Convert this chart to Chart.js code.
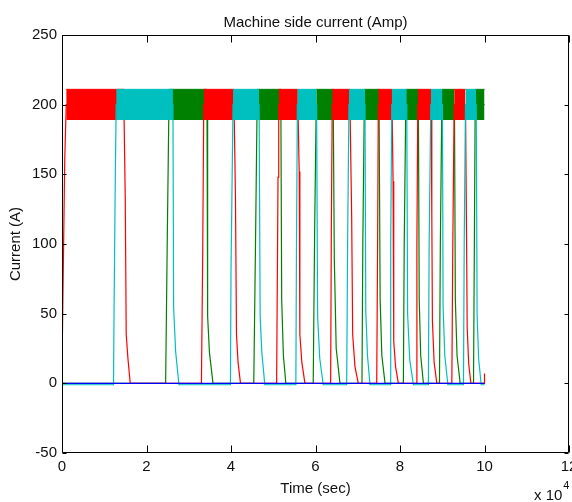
<!DOCTYPE html>
<html>
<head>
<meta charset="utf-8">
<script src="https://cdn.jsdelivr.net/npm/chart.js@4.4.1/dist/chart.umd.min.js"></script>
<style>
  html, body { margin: 0; padding: 0; background: #fff; }
  #wrap { width: 572px; height: 502px; }
</style>
</head>
<body>
<div id="wrap"><canvas id="chart"></canvas></div>
<script>
// time is in units of 1e4 s (axis shows "x 10^4"), current in A
var xTicks = [0, 2, 4, 6, 8, 10, 12];
var yTicks = [-50, 0, 50, 100, 150, 200, 250];

// envelope of the fast ripple while a phase conducts
var bandTop = 211;
var bandLow = 189;

var redT = [0, 0.065, 0.10, 1.465, 1.497, 1.52, 1.56, 1.615, 3.30, 3.33, 3.355, 4.072, 4.105, 4.13, 4.167, 4.225,
  5.08, 5.113, 5.13, 5.583, 5.614, 5.63, 5.677, 5.75, 6.358, 6.375, 6.396, 6.816, 6.856, 6.88, 6.934, 7.013,
  7.449, 7.47, 7.487, 7.812, 7.836, 7.852, 7.895, 7.961, 8.381, 8.40, 8.421, 8.737, 8.753, 8.767, 8.808, 8.872,
  9.227, 9.25, 9.282, 9.55, 9.574, 9.59, 9.626, 9.678, 9.99, 10.0];
var redA = [12, 161, 200, 200, 133, 35, 18, 0, 0, 92, 200, 200, 135, 35, 15, 0,
  0, 148, 200, 200, 152, 35, 15, 0, 0, 110, 200, 200, 120, 35, 12, 0,
  0, 100, 200, 200, 145, 30, 12, 0, 0, 100, 200, 200, 120, 45, 15, 0,
  0, 100, 200, 200, 109, 40, 14, 0, 0, 7];
var redOn = [[0.10, 1.465], [3.355, 4.072], [5.13, 5.583], [6.396, 6.816], [7.487, 7.812], [8.421, 8.737], [9.282, 9.55]];

var cyanT = [0, 1.219, 1.232, 1.262, 1.283, 2.626, 2.642, 2.689, 2.768, 3.987, 4.0, 4.048, 4.665, 4.69, 4.73, 4.80,
  5.535, 5.55, 5.571, 6.026, 6.05, 6.10, 6.183, 6.738, 6.76, 6.792, 7.171, 7.19, 7.23, 7.29,
  7.764, 7.78, 7.805, 8.16, 8.18, 8.23, 8.317, 8.672, 8.69, 8.729, 9.004, 9.02, 9.06, 9.133,
  9.502, 9.52, 9.55, 9.804, 9.825, 9.86, 9.922, 10.0];
var cyanA = [-1, -1, 51, 150, 200, 200, 54, 23, -1, -1, 80, 200, 200, 48, 22, -1,
  -1, 100, 200, 200, 48, 18, -1, -1, 100, 200, 200, 52, 20, -1,
  -1, 100, 200, 200, 50, 17, -1, -1, 100, 200, 200, 55, 20, -1,
  -1, 100, 200, 200, 50, 18, -1, -1];
var cyanOn = [[1.283, 2.626], [4.048, 4.665], [5.571, 6.026], [6.792, 7.171], [7.805, 8.16], [8.729, 9.004], [9.55, 9.804]];

var greenT = [0, 2.453, 2.493, 2.531, 3.432, 3.447, 3.49, 3.574, 4.539, 4.58, 4.618, 5.18, 5.20, 5.24, 5.298,
  5.946, 5.98, 6.017, 6.42, 6.445, 6.49, 6.579, 7.10, 7.12, 7.155, 7.504, 7.53, 7.57, 7.646,
  8.08, 8.10, 8.137, 8.435, 8.455, 8.49, 8.554, 8.934, 8.955, 8.99, 9.289, 9.31, 9.35, 9.424,
  9.74, 9.76, 9.78, 10.0];
var greenA = [0, 0, 107, 200, 200, 48, 22, 0, 0, 100, 200, 200, 60, 20, 0,
  0, 110, 200, 200, 90, 25, 0, 0, 100, 200, 200, 60, 20, 0,
  0, 100, 200, 200, 60, 20, 0, 0, 100, 200, 200, 60, 20, 0,
  0, 100, 200, 200];
var greenOn = [[2.531, 3.432], [4.618, 5.18], [6.017, 6.42], [7.155, 7.504], [8.137, 8.435], [8.99, 9.289], [9.78, 10.0]];

var blueT = [0, 10.0];
var blueA = [0, 0];

var RED = '#ff0000', CYAN = '#00bfbf', GREEN = '#008000', BLUE = '#0000ff';
var FONT = { family: '"Liberation Sans", Arial, sans-serif', size: 15 };

function pts(ts, vs) {
  return ts.map(function (t, i) { return { x: t, y: vs[i] }; });
}

function band(spans) {
  var out = [];
  spans.forEach(function (s) {
    out.push({ x: s[0], y: bandTop }, { x: s[1], y: bandTop }, { x: s[1], y: null });
  });
  return out;
}

function bandSet(spans, color) {
  return { data: band(spans), borderColor: color, backgroundColor: color, borderWidth: 1, fill: { value: bandLow }, spanGaps: false };
}

function lineSet(ts, vs, color) {
  return { data: pts(ts, vs), borderColor: color, borderWidth: 1.2, fill: false };
}

// inward ticks and the box round the axes, plus title and exponent
var boxPlugin = {
  id: 'box',
  afterDraw: function (chart) {
    var ctx = chart.ctx, a = chart.chartArea;
    var xs = chart.scales.x, ys = chart.scales.y;
    var l = Math.round(a.left) + 0.5, r = Math.round(a.right) - 0.5;
    var t = Math.round(a.top) + 0.5, b = Math.round(a.bottom) - 0.5;
    ctx.save();
    ctx.strokeStyle = '#000';
    ctx.lineWidth = 1;
    ctx.beginPath();
    ctx.rect(l, t, r - l, b - t);
    xTicks.forEach(function (v) {
      var px = Math.round(xs.getPixelForValue(v)) + 0.5;
      ctx.moveTo(px, b); ctx.lineTo(px, b - 7);
      ctx.moveTo(px, t); ctx.lineTo(px, t + 7);
    });
    yTicks.forEach(function (v) {
      var py = Math.round(ys.getPixelForValue(v)) + 0.5;
      ctx.moveTo(l, py); ctx.lineTo(l + 4, py);
      ctx.moveTo(r, py); ctx.lineTo(r - 4, py);
    });
    ctx.stroke();

    ctx.fillStyle = '#111';
    ctx.font = '15px "Liberation Sans", Arial, sans-serif';
    ctx.textAlign = 'center';
    ctx.textBaseline = 'alphabetic';
    ctx.fillText('Machine side current (Amp)', (a.left + a.right) / 2, 27);

    ctx.textAlign = 'left';
    ctx.fillText('x 10', 534, 500);
    var w = ctx.measureText('x 10').width;
    ctx.font = '11px "Liberation Sans", Arial, sans-serif';
    ctx.fillText('4', 534 + w + 1, 489);
    ctx.restore();
  }
};

new Chart(document.getElementById('chart'), {
  type: 'line',
  data: {
    // first dataset is drawn on top
    datasets: [
      bandSet(cyanOn, CYAN),
      lineSet(blueT, blueA, BLUE),
      lineSet(cyanT, cyanA, CYAN),
      bandSet(redOn, RED),
      lineSet(redT, redA, RED),
      bandSet(greenOn, GREEN),
      lineSet(greenT, greenA, GREEN)
    ]
  },
  options: {
    responsive: true,
    maintainAspectRatio: false,
    animation: false,
    layout: { padding: { top: 35, right: 3, left: 0, bottom: 0 } },
    elements: { point: { radius: 0 }, line: { tension: 0 } },
    plugins: {
      legend: { display: false },
      tooltip: { enabled: false },
      title: { display: false }
    },
    scales: {
      x: {
        type: 'linear',
        min: 0,
        max: 12,
        grid: { display: false, drawTicks: false },
        border: { display: false },
        afterBuildTicks: function (s) { s.ticks = xTicks.map(function (v) { return { value: v }; }); },
        afterFit: function (s) { s.height = 49; s.paddingLeft = 0; s.paddingRight = 0; },
        ticks: { padding: 5, color: '#111', font: FONT, maxRotation: 0, autoSkip: false },
        title: { display: true, text: 'Time (sec)', color: '#111', font: FONT, padding: { top: 0, bottom: 4 } }
      },
      y: {
        min: -50,
        max: 250,
        grid: { display: false, drawTicks: false },
        border: { display: false },
        afterBuildTicks: function (s) { s.ticks = yTicks.map(function (v) { return { value: v }; }); },
        afterFit: function (s) { s.width = 62; },
        ticks: { padding: 5, color: '#111', font: FONT },
        title: { display: true, text: 'Current (A)', color: '#111', font: FONT, padding: { top: 7, bottom: 0 } }
      }
    }
  },
  plugins: [boxPlugin]
});
</script>
</body>
</html>
